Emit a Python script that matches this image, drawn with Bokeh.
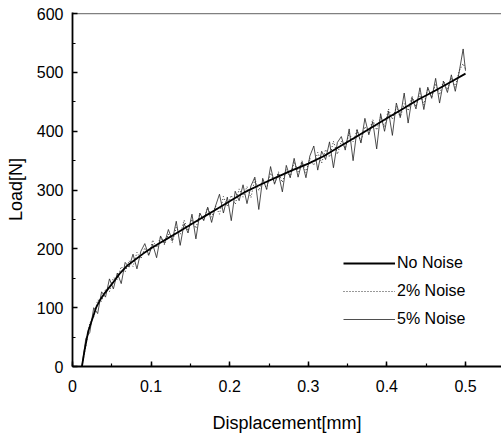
from bokeh.plotting import figure
from bokeh.models import Span, Legend, LegendItem, SingleIntervalTicker
from bokeh.embed import file_html
from bokeh.resources import INLINE

# ---- data ----
x_clean = [0.012, 0.015, 0.02, 0.025, 0.03, 0.035, 0.04, 0.05, 0.06, 0.07, 0.08, 0.09,
           0.1, 0.11, 0.12, 0.13, 0.14, 0.15, 0.16, 0.17, 0.18, 0.19, 0.2, 0.22, 0.24,
           0.26, 0.28, 0.3, 0.32, 0.34, 0.36, 0.38, 0.4, 0.42, 0.44, 0.46, 0.48, 0.5]
y_clean = [0, 25, 60, 80, 100, 113, 123, 140, 158, 172, 182, 192,
           201, 209, 217, 225, 233, 241, 249, 257, 265, 273, 281, 297, 310,
           322, 334, 345, 358, 374, 390, 406, 422, 438, 454, 468, 483, 498]

x_noise = [0.012, 0.017, 0.022, 0.027, 0.032, 0.037, 0.042, 0.047, 0.052, 0.057,
           0.062, 0.067, 0.072, 0.077, 0.082, 0.087, 0.092, 0.097, 0.102, 0.107,
           0.112, 0.117, 0.122, 0.127, 0.132, 0.137, 0.142, 0.147, 0.152, 0.157,
           0.162, 0.167, 0.172, 0.177, 0.182, 0.187, 0.192, 0.197, 0.202, 0.207,
           0.212, 0.217, 0.222, 0.227, 0.232, 0.237, 0.242, 0.247, 0.252, 0.257,
           0.262, 0.267, 0.272, 0.277, 0.282, 0.287, 0.292, 0.297, 0.302, 0.307,
           0.312, 0.317, 0.322, 0.327, 0.332, 0.337, 0.342, 0.347, 0.352, 0.357,
           0.362, 0.367, 0.372, 0.377, 0.382, 0.387, 0.392, 0.397, 0.402, 0.407,
           0.412, 0.417, 0.422, 0.427, 0.432, 0.437, 0.442, 0.447, 0.452, 0.457,
           0.462, 0.467, 0.472, 0.477, 0.482, 0.487, 0.492, 0.497, 0.5]

y_noise2 = [0, 35, 74, 84, 113, 111, 131, 127, 151, 148,
            170, 161, 180, 170, 194, 183, 202, 189, 215, 202,
            220, 207, 225, 211, 237, 225, 249, 231, 250, 235,
            260, 249, 270, 254, 273, 259, 289, 272, 291, 276,
            302, 288, 306, 287, 319, 299, 316, 302, 329, 312,
            331, 313, 335, 322, 348, 331, 350, 330, 354, 342,
            364, 346, 369, 356, 383, 361, 383, 371, 397, 382,
            402, 382, 408, 397, 420, 402, 425, 408, 438, 420,
            442, 423, 447, 435, 460, 442, 464, 445, 473, 458,
            481, 462, 486, 471, 491, 475, 503, 515, 506]

y_noise5 = [0, 48, 58, 100, 90, 127, 118, 149, 132, 159,
            141, 177, 169, 191, 166, 196, 209, 189, 208, 185,
            222, 209, 233, 214, 247, 206, 243, 227, 259, 217,
            261, 248, 271, 245, 273, 293, 261, 288, 248, 298,
            282, 309, 277, 307, 322, 267, 320, 301, 340, 310,
            328, 297, 342, 321, 354, 322, 348, 321, 358, 375,
            334, 366, 352, 382, 338, 381, 391, 368, 404, 350,
            403, 380, 422, 394, 416, 370, 430, 400, 434, 393,
            448, 424, 465, 414, 457, 438, 474, 437, 475, 456,
            490, 448, 485, 466, 496, 468, 501, 540, 503]

series_names = ["No Noise", "2% Noise", "5% Noise"]
y_ticks = [0, 100, 200, 300, 400, 500, 600]
x_ticks = [0, 0.1, 0.2, 0.3, 0.4, 0.5]

FONT = "Liberation Sans"

p = figure(width=501, height=438, x_range=(0, 0.5458), y_range=(0, 602),
           output_backend="svg", toolbar_location=None,
           min_border_left=72, min_border_right=0, min_border_top=12,
           min_border_bottom=72)
p.outline_line_color = None
p.grid.visible = False
p.background_fill_color = "white"
p.border_fill_color = "white"

r5 = p.line(x_noise, y_noise5, line_color="#222222", line_width=0.8)
r2 = p.line(x_noise, y_noise2, line_color="#333333", line_width=1.0, line_dash="1 2")
r0 = p.line(x_clean, y_clean, line_color="black", line_width=1.8)

top = Span(location=600, dimension="width", line_color="black", line_width=1.3,
           line_dash="1 1")
p.add_layout(top)

for ax in (p.xaxis[0], p.yaxis[0]):
    ax.axis_line_color = "black"
    ax.axis_line_width = 1.8
    ax.major_tick_in = 5
    ax.major_tick_out = 0
    ax.minor_tick_in = 3
    ax.minor_tick_out = 0
    ax.major_tick_line_width = 1.5
    ax.minor_tick_line_width = 1.2
    ax.major_label_text_font = FONT
    ax.major_label_text_font_size = "16px"
    ax.major_label_text_color = "black"
    ax.axis_label_text_font = FONT
    ax.axis_label_text_font_size = "18px"
    ax.axis_label_text_font_style = "normal"
    ax.axis_label_text_color = "black"

p.xaxis.ticker = SingleIntervalTicker(interval=0.1, num_minor_ticks=2)
p.yaxis.ticker = SingleIntervalTicker(interval=100, num_minor_ticks=2)
p.xaxis.major_label_overrides = {t: ("0" if t == 0 else f"{t:.1f}") for t in x_ticks}
p.yaxis.major_label_overrides = {t: str(t) for t in y_ticks}
p.xaxis.major_label_standoff = 13
p.yaxis.major_label_standoff = 9
p.xaxis.axis_label = "Displacement[mm]"
p.yaxis.axis_label = "Load[N]"
p.xaxis.axis_label_standoff = 18
p.yaxis.axis_label_standoff = 8

legend = Legend(items=[LegendItem(label=series_names[0], renderers=[r0]),
                       LegendItem(label=series_names[1], renderers=[r2]),
                       LegendItem(label=series_names[2], renderers=[r5])],
                location=(271, 37))
legend.border_line_color = None
legend.background_fill_alpha = 0
legend.padding = 0
legend.margin = 0
legend.spacing = 8
legend.glyph_width = 52
legend.glyph_height = 20
legend.label_standoff = 2
legend.label_text_font = FONT
legend.label_text_font_size = "16px"
legend.label_text_color = "black"
p.add_layout(legend, "center")

open("out.html", "w").write(file_html(p, INLINE))
